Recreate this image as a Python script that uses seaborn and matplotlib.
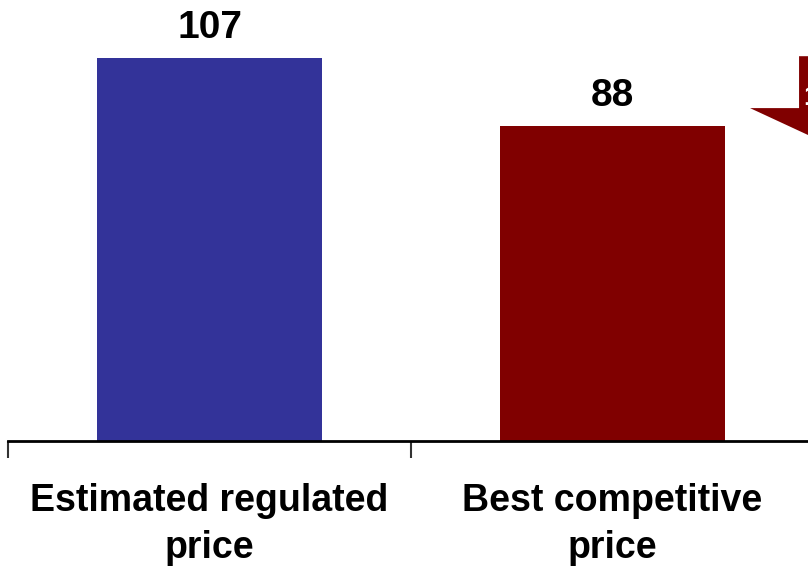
import matplotlib
matplotlib.use("Agg")
import matplotlib.pyplot as plt
from matplotlib.patches import Polygon
import seaborn as sns
import pandas as pd

categories = ["Estimated regulated\nprice", "Best competitive\nprice"]
values = [107, 88]
bar_colors = ["#333399", "#800000"]

sns.set_theme(style="white")
plt.rcParams["font.family"] = ["Liberation Sans", "DejaVu Sans"]

df = pd.DataFrame({"category": categories, "value": values})

fig = plt.figure(figsize=(8.08, 5.66), dpi=100)
ax = fig.add_axes([8 / 808, 125 / 566, 800 / 808, 441 / 566])

sns.barplot(data=df, x="category", y="value", hue="category",
            palette=bar_colors, width=0.56, saturation=1, legend=False,
            edgecolor="none", ax=ax)

# value labels above bars
for i, v in enumerate(values):
    ax.text(i, v + 5.6, f"{v}", ha="center", va="baseline",
            fontsize=28, fontweight="bold", color="black")

# difference arrow pointing down, partly beyond the right edge
cx = 1.5174
shaft_l, shaft_r = 1.4628, 1.572
head_l, head_r = 1.3412, 1.6935
top, head_top, tip = 107.5, 93.0, 83.8
arrow = Polygon([(shaft_l, top), (shaft_r, top), (shaft_r, head_top),
                 (head_r, head_top), (cx, tip), (head_l, head_top),
                 (shaft_l, head_top)], closed=True,
                facecolor="#800000", edgecolor="none", clip_on=True)
ax.add_patch(arrow)
ax.text(1.474, 93.8, f"{values[0] - values[1]}", ha="left", va="baseline",
        fontsize=20, fontweight="bold", color="white", clip_on=True)

# axes styling
for side in ["top", "right", "left"]:
    ax.spines[side].set_visible(False)
ax.spines["bottom"].set_linewidth(2)
ax.spines["bottom"].set_color("black")
ax.set_yticks([])
ax.set_xlabel("")
ax.set_ylabel("")
ax.set_xticks([0, 1])
ax.set_xticklabels(categories, fontsize=27, fontweight="bold",
                   linespacing=1.42, color="black")
ax.tick_params(axis="x", which="major", length=0, pad=30)
ax.set_xticks([-0.5, 0.5, 1.5], minor=True)
ax.tick_params(axis="x", which="minor", length=12, width=1.5,
               color="#333333", direction="out", bottom=True)

ax.set_xlim(-0.5, 1.485)
ax.set_ylim(0, 123.2)

fig.savefig("out.png", dpi=100)
